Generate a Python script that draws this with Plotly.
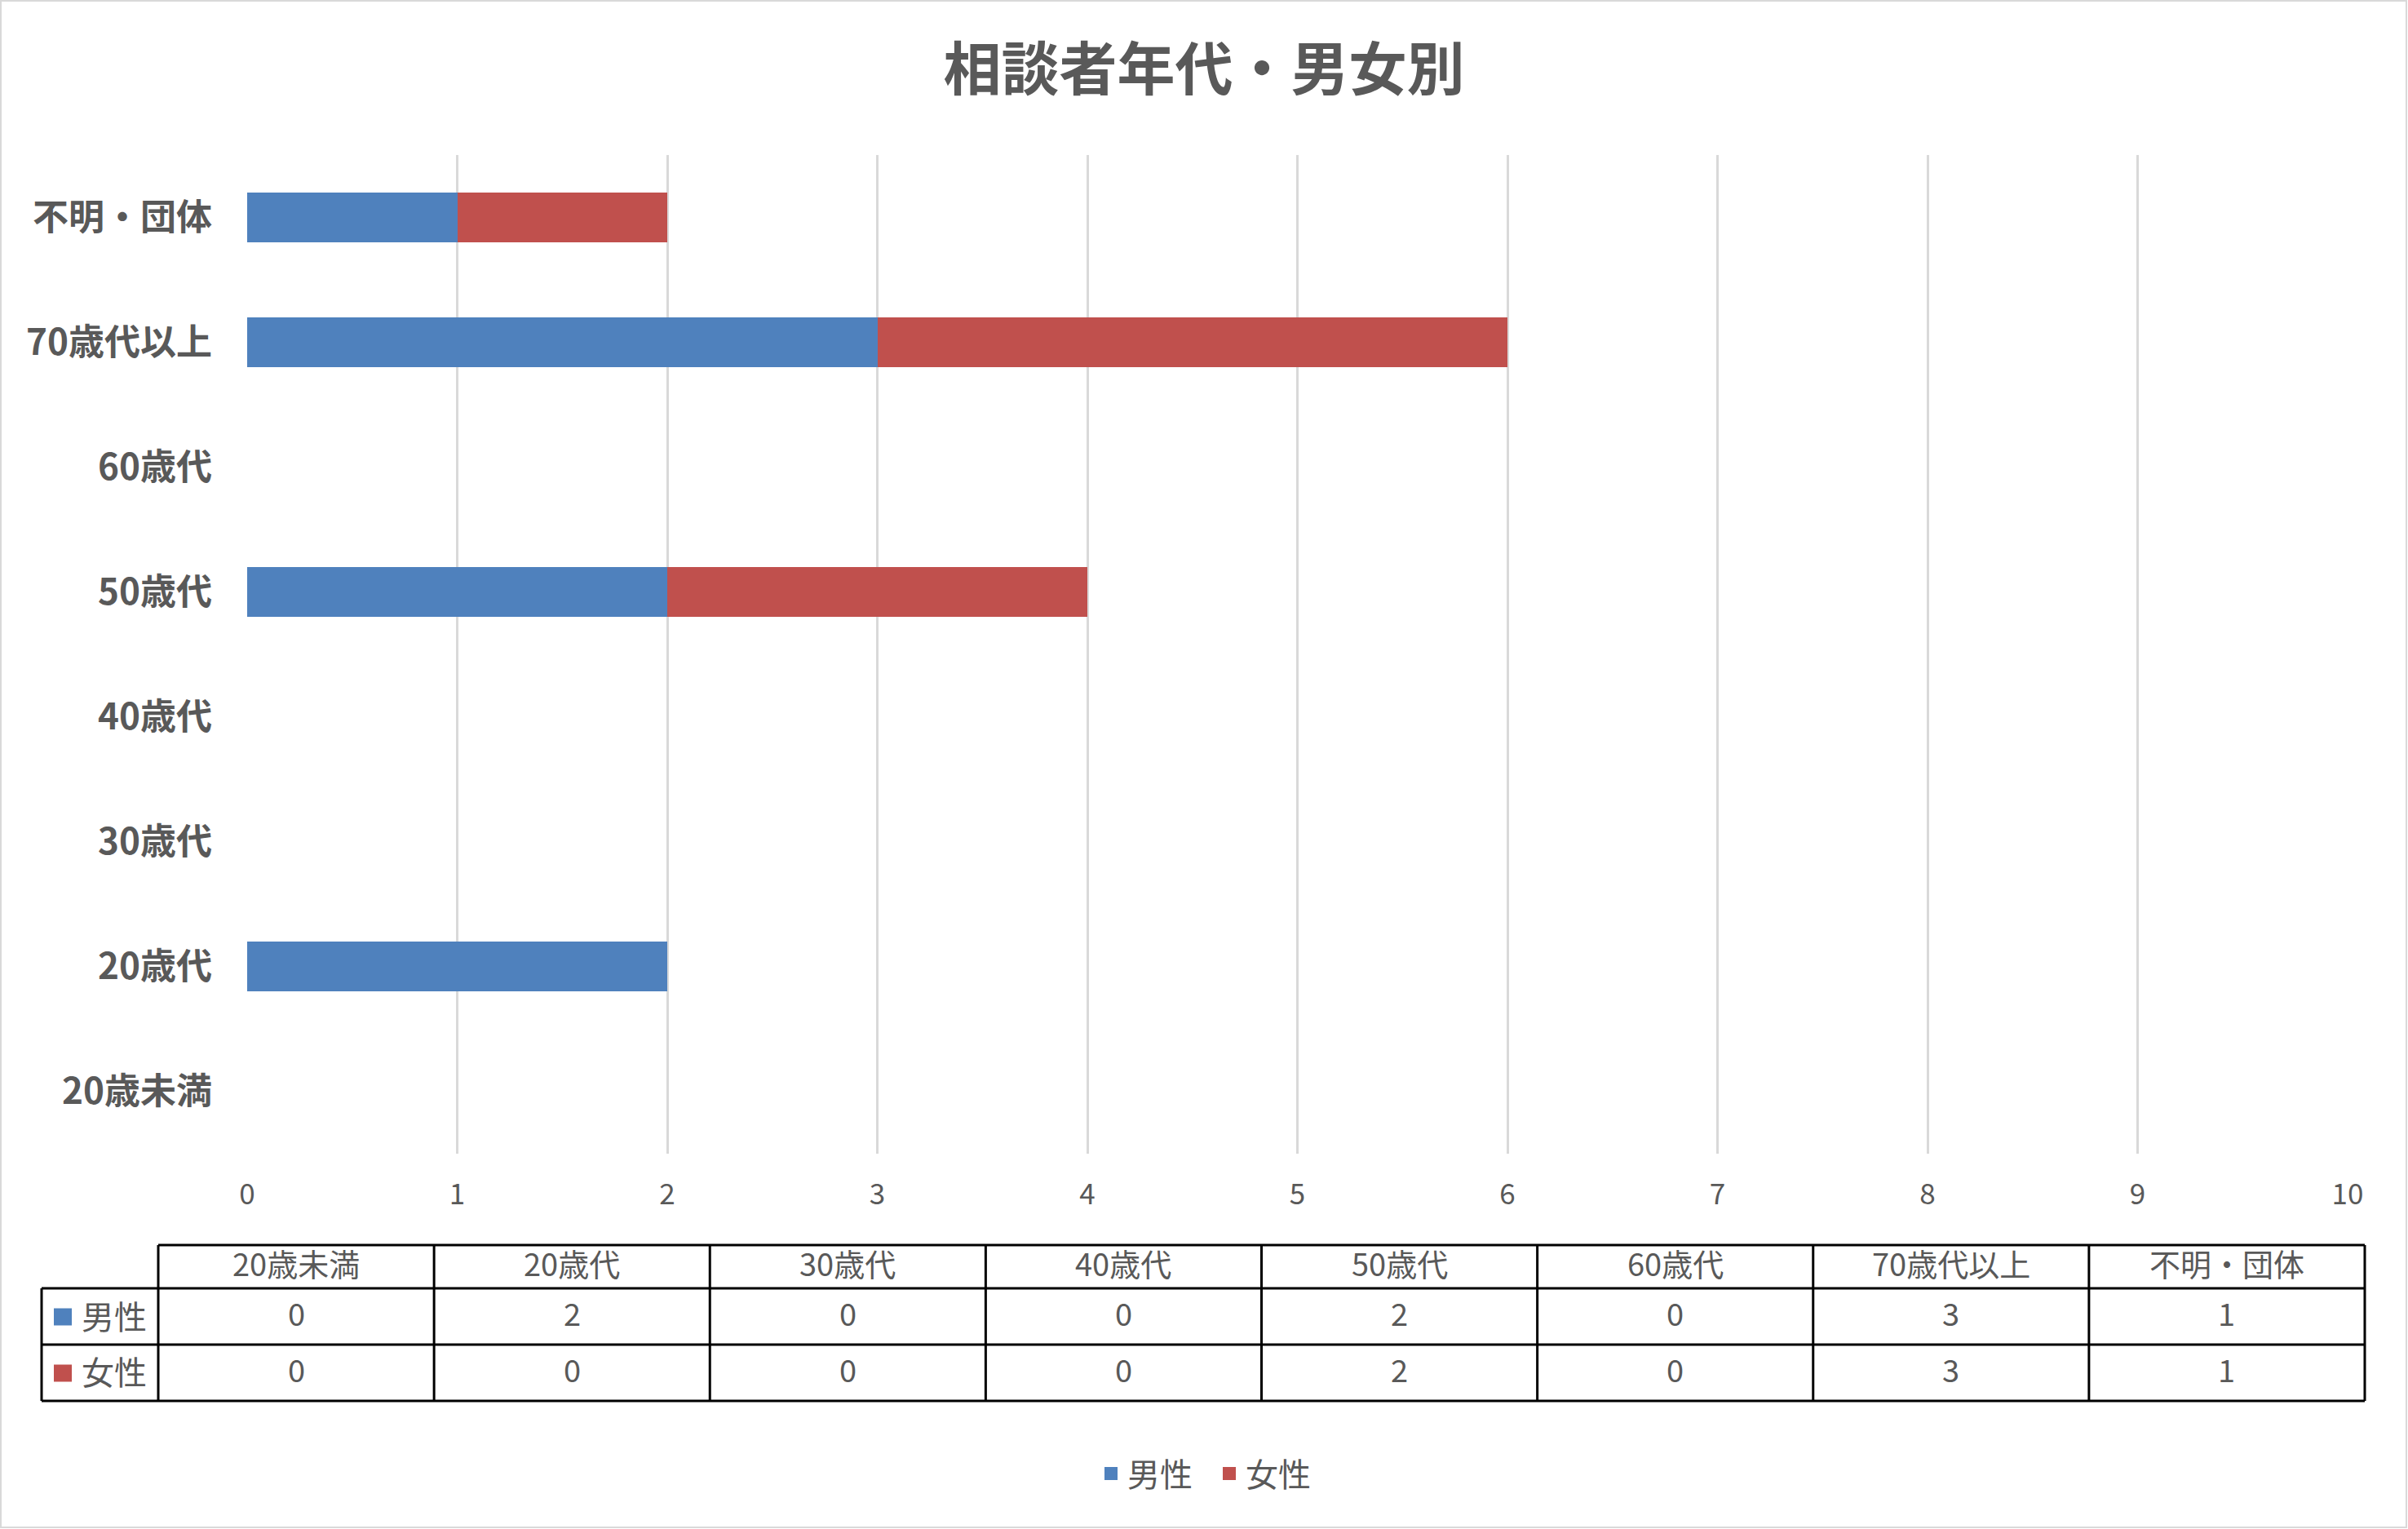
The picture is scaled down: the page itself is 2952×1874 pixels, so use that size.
import plotly.graph_objects as go

# ---------------- data ----------------
categories = ["20歳未満", "20歳代", "30歳代", "40歳代", "50歳代", "60歳代", "70歳代以上", "不明・団体"]
series_names = ["男性", "女性"]
male = [0, 2, 0, 0, 2, 0, 3, 1]
female = [0, 0, 0, 0, 2, 0, 3, 1]
series_values = [male, female]
series_colors = ["#4F81BD", "#C0504D"]
x_ticks = list(range(0, 11))
title_text = "相談者年代・男女別"

# ---------------- layout geometry (pixels) ----------------
W, H = 2952, 1874
PL, PR = 303, 2878      # plot area left / right
PT, PB = 190, 1414      # plot area top / bottom
FONT = "Noto Sans CJK JP"
TXT = "#595959"


def px2x(px):
    return (px - PL) / (PR - PL)


def py2y(py):
    return (PB - py) / (PB - PT)


fig = go.Figure()
for name, vals, col in zip(series_names, series_values, series_colors):
    fig.add_trace(go.Bar(
        y=categories, x=vals, name=name, orientation="h",
        marker=dict(color=col, line=dict(width=0)), showlegend=False,
    ))
# legend entries (square keys)
for name, col in zip(series_names, series_colors):
    fig.add_trace(go.Scatter(
        x=[None], y=[None], mode="markers", name=name,
        marker=dict(symbol="square", size=16, color=col), showlegend=True,
    ))

shapes = []
annotations = []

# ---------------- data table ----------------
tab_left_hdr = 194
tab_left = 51
tab_right = 2899
col_w = (tab_right - tab_left_hdr) / len(categories)
row_edges = [1526, 1579, 1648, 1717]
line_style = dict(color="#000000", width=3)
TXT_DY = -5

shapes.append(dict(type="line", xref="paper", yref="paper",
                   x0=px2x(tab_left_hdr), x1=px2x(tab_right),
                   y0=py2y(row_edges[0]), y1=py2y(row_edges[0]), line=line_style))
for ry in row_edges[1:]:
    shapes.append(dict(type="line", xref="paper", yref="paper",
                       x0=px2x(tab_left), x1=px2x(tab_right),
                       y0=py2y(ry), y1=py2y(ry), line=line_style))
shapes.append(dict(type="line", xref="paper", yref="paper",
                   x0=px2x(tab_left), x1=px2x(tab_left),
                   y0=py2y(row_edges[1]), y1=py2y(row_edges[-1]), line=line_style))
for i in range(len(categories) + 1):
    cx = tab_left_hdr + i * col_w
    shapes.append(dict(type="line", xref="paper", yref="paper",
                       x0=px2x(cx), x1=px2x(cx),
                       y0=py2y(row_edges[0]), y1=py2y(row_edges[-1]), line=line_style))

hdr_cy = (row_edges[0] + row_edges[1]) / 2 + TXT_DY
for i, c in enumerate(categories):
    cx = tab_left_hdr + (i + 0.5) * col_w
    annotations.append(dict(xref="paper", yref="paper", x=px2x(cx), y=py2y(hdr_cy),
                            text=c, showarrow=False, xanchor="center", yanchor="middle",
                            font=dict(family=FONT, size=38, color=TXT)))
for r, (name, vals, col) in enumerate(zip(series_names, series_values, series_colors)):
    cy = (row_edges[r + 1] + row_edges[r + 2]) / 2
    shapes.append(dict(type="rect", xref="paper", yref="paper",
                       x0=px2x(66), x1=px2x(88), y0=py2y(cy - 10), y1=py2y(cy + 11),
                       fillcolor=col, line=dict(width=0)))
    annotations.append(dict(xref="paper", yref="paper", x=px2x(98), y=py2y(cy - 2),
                            text=name, showarrow=False, xanchor="left", yanchor="middle",
                            font=dict(family=FONT, size=40, color=TXT)))
    for i, v in enumerate(vals):
        cx = tab_left_hdr + (i + 0.5) * col_w
        annotations.append(dict(xref="paper", yref="paper", x=px2x(cx), y=py2y(cy + TXT_DY),
                                text=str(v), showarrow=False, xanchor="center", yanchor="middle",
                                font=dict(family=FONT, size=38, color=TXT)))

# outer chart border
shapes.append(dict(type="rect", xref="paper", yref="paper",
                   x0=px2x(1), x1=px2x(W - 2), y0=py2y(1), y1=py2y(H - 2),
                   line=dict(color="#d9d9d9", width=2), fillcolor="rgba(0,0,0,0)", layer="below"))

fig.update_layout(
    width=W, height=H,
    margin=dict(l=PL, r=W - PR, t=PT, b=H - PB, pad=0),
    paper_bgcolor="white", plot_bgcolor="white",
    barmode="stack", bargap=0.595,
    font=dict(family=FONT, color=TXT),
    title=dict(text="<b>" + title_text + "</b>", x=0.5, xref="container", xanchor="center",
               y=1 - 85 / H, yref="container", yanchor="middle",
               font=dict(family=FONT, size=71, color=TXT)),
    xaxis=dict(range=[0, 10], tickvals=x_ticks, ticktext=[str(t) for t in x_ticks],
               showgrid=True, gridcolor="#d9d9d9", gridwidth=3,
               zeroline=False, showline=False, ticks="",
               ticklabelstandoff=26,
               tickfont=dict(family=FONT, size=35, color=TXT)),
    yaxis=dict(categoryorder="array", categoryarray=categories,
               showgrid=False, zeroline=False, showline=False, ticks="",
               ticklabelstandoff=42,
               tickfont=dict(family=FONT, size=44, color=TXT, weight="bold")),
    legend=dict(orientation="h", x=px2x(1342), xanchor="left", y=py2y(1806), yanchor="middle",
                font=dict(family=FONT, size=40, color=TXT), itemwidth=30,
                entrywidth=100, entrywidthmode="pixels",
                bgcolor="rgba(0,0,0,0)", traceorder="normal"),
    shapes=shapes,
    annotations=annotations,
)

fig.write_html("out.html", config={"displayModeBar": False},
               post_script="document.body.style.margin='0';document.body.style.padding='0';")
